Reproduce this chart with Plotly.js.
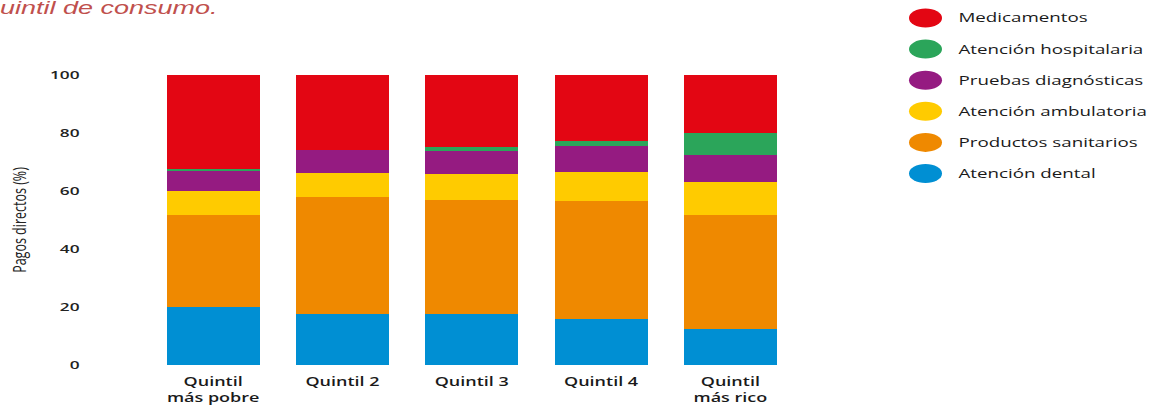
<!DOCTYPE html>
<html><head><meta charset="utf-8">
<script src="https://cdn.plot.ly/plotly-3.0.1.min.js"></script>
<style>
html,body{margin:0;padding:0;background:#fff;overflow:hidden;width:1162px;height:407px;}
#chart{width:775px;height:407px;transform:scaleX(1.5);transform-origin:0 0;}
</style></head><body><div id="chart"></div>
<script>
// ---- data ----
const categories = ['Quintil<br>más pobre', 'Quintil 2', 'Quintil 3', 'Quintil 4', 'Quintil<br>más rico'];
const seriesNames = ['Atención dental', 'Productos sanitarios', 'Atención ambulatoria', 'Pruebas diagnósticas', 'Atención hospitalaria', 'Medicamentos'];
const dental       = [20.1, 17.6, 17.6, 16.0, 12.4];
const productos    = [31.6, 40.4, 39.3, 40.4, 39.3];
const ambulatoria  = [8.4, 8.3, 8.8, 10.3, 11.5];
const pruebas      = [6.8, 7.8, 8.2, 8.8, 9.2];
const hospitalaria = [0.6, 0.0, 1.2, 1.7, 7.5];
const medicamentos = [32.5, 25.9, 24.9, 22.8, 20.1];
const yTicks = [0, 20, 40, 60, 80, 100];
const titleText = 'uintil de consumo.';
const yTitle = 'Pagos directos (%)';

// ---- style ----
const colors = ['#008fd3', '#ef8900', '#ffcb00', '#951b81', '#2ba55a', '#e30613'];
const values = [dental, productos, ambulatoria, pruebas, hospitalaria, medicamentos];
const S = 1.5, W = 775, H = 407, L = 99, R = 245, T = 75, B = 42;
const plotW = W - L - R, plotH = H - T - B;
const px = d => (d / S - L) / plotW;
const py = d => (H - B - d) / plotH;

const traces = values.map((v, i) => ({
  type: 'bar', x: categories, y: v, name: seriesNames[i],
  marker: {color: colors[i], line: {width: 0}},
  hoverinfo: 'skip'
}));

// legend (top entry = top of stack)
const shapes = [], annotations = [];
for (let k = 0; k < seriesNames.length; k++) {
  const i = seriesNames.length - 1 - k;
  const cy = 18 + 31.1 * k;
  shapes.push({type: 'circle', xref: 'paper', yref: 'paper',
    x0: px(909), x1: px(942), y0: py(cy + 9.5), y1: py(cy - 9.5),
    fillcolor: colors[i], line: {width: 0, color: 'rgba(0,0,0,0)'}});
  annotations.push({xref: 'paper', yref: 'paper', x: px(955), y: py(cy),
    xanchor: 'left', yanchor: 'middle', align: 'left', showarrow: false,
    text: seriesNames[i], font: {family: 'Open Sans, sans-serif', size: 12.5, weight: 500, color: '#1a1a1a'}});
}

const layout = {
  width: W, height: H, autosize: false,
  margin: {l: L, r: R, t: T, b: B, pad: 0},
  paper_bgcolor: '#fff', plot_bgcolor: '#fff',
  showlegend: false, barmode: 'stack', bargap: 0.28, hovermode: false,
  title: {text: titleText, xref: 'container', x: 0, xanchor: 'left',
    yref: 'container', y: 1 - 14 / H, yanchor: 'bottom',
    font: {family: 'Liberation Sans, Arial, sans-serif', size: 18, style: 'italic', color: '#c0504d'}},
  xaxis: {type: 'category', showgrid: false, zeroline: false, showline: false, ticks: '',
    ticklabelstandoff: 8,
    tickfont: {family: 'Open Sans, sans-serif', size: 12, weight: 600, color: '#1a1a1a'}},
  yaxis: {range: [0, 100], tickvals: yTicks, ticktext: yTicks.map(String),
    showgrid: false, zeroline: false, showline: false, ticks: '',
    ticklabelstandoff: 45,
    tickfont: {family: 'Open Sans, sans-serif', size: 11.5, weight: 600, color: '#222'},
    title: {text: yTitle, standoff: 12, font: {family: 'Open Sans, sans-serif', size: 12.5, color: '#222'}}},
  shapes: shapes, annotations: annotations
};
Plotly.newPlot('chart', traces, layout, {displayModeBar: false, staticPlot: true});
</script></body></html>
